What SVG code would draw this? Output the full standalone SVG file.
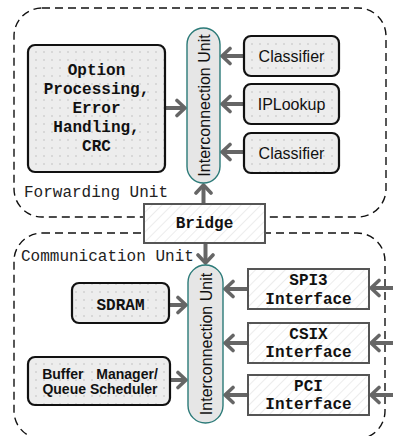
<svg xmlns="http://www.w3.org/2000/svg" width="393" height="436" viewBox="0 0 393 436">
  <style>
    .unit { fill: none; stroke: #111; stroke-width: 1.4; stroke-dasharray: 8 5; }
    .unit-label { font-family: "Liberation Mono", "Courier New", monospace; font-size: 16px; fill: #222; }
    .iu { fill: #e6e6e6; stroke: #2b7a78; stroke-width: 1.4; }
    .iu-text { font-family: "Liberation Sans", Arial, sans-serif; font-size: 16px; fill: #111; text-anchor: middle; }
    .soft { fill: url(#dots); stroke: #111; stroke-width: 2.2; }
    .hatch { fill: url(#hatch); stroke: #555; stroke-width: 2; }
    .mono { font-family: "Liberation Mono", "Courier New", monospace; font-size: 16px; font-weight: bold; fill: #111; text-anchor: middle; }
    .sans { font-family: "Liberation Sans", Arial, sans-serif; font-size: 16px; fill: #111; text-anchor: middle; }
    .sans-b { font-family: "Liberation Sans", Arial, sans-serif; font-size: 14px; font-weight: bold; fill: #111; text-anchor: middle; }
    .link { fill: none; stroke: #666; stroke-width: 4; marker-end: url(#arr); }
  </style>
  <defs>
    <pattern id="dots" width="8" height="8" patternUnits="userSpaceOnUse">
      <rect width="8" height="8" fill="#ededed"/>
      <circle cx="4" cy="4" r="0.8" fill="#bdbdbd"/>
    </pattern>
    <pattern id="hatch" width="7" height="7" patternUnits="userSpaceOnUse" patternTransform="rotate(45)">
      <rect width="7" height="7" fill="#ffffff"/>
      <line x1="0" y1="0" x2="0" y2="7" stroke="#e0e0e0" stroke-width="1.2"/>
    </pattern>
    <marker id="arr" viewBox="-11 -10 14 20" refX="0" refY="0" markerWidth="14" markerHeight="20" markerUnits="userSpaceOnUse" orient="auto">
      <path d="M-8,-7.5 L0,0 L-8,7.5" fill="none" stroke="#666" stroke-width="3.6" stroke-linecap="round" stroke-linejoin="round"/>
    </marker>
  </defs>

  <rect width="393" height="436" fill="#ffffff"/>

  <!-- unit boundaries -->
  <g id="forwarding-unit">
    <rect class="unit" x="14" y="8" width="372" height="209" rx="28"/>
    <text class="unit-label" x="24" y="197">Forwarding Unit</text>
  </g>
  <g id="communication-unit">
    <rect class="unit" x="14" y="233" width="371" height="206" rx="28"/>
    <text class="unit-label" x="21" y="261">Communication Unit</text>
  </g>

  <!-- connectors -->
  <g id="connectors">
    <path class="link" d="M165,108 H185"/>
    <path class="link" d="M244,56 H222"/>
    <path class="link" d="M244,104 H222"/>
    <path class="link" d="M244,152 H222"/>
    <path class="link" d="M203.5,204 V185"/>
    <path class="link" d="M205.5,243 V263"/>
    <path class="link" d="M169,305 H186"/>
    <path class="link" d="M170,380 H186"/>
    <path class="link" d="M248,289 H225"/>
    <path class="link" d="M248,343 H225"/>
    <path class="link" d="M248,395 H225"/>
    <path class="link" d="M393,288 H371"/>
    <path class="link" d="M393,343 H371"/>
    <path class="link" d="M393,395 H371"/>
  </g>

  <!-- forwarding unit nodes -->
  <g id="iu-forwarding">
    <rect class="iu" x="187" y="28" width="33" height="155" rx="16.5"/>
    <text class="iu-text" transform="translate(209.5,105.5) rotate(-90)">Interconnection Unit</text>
  </g>
  <g id="option-processing">
    <rect class="soft" x="28" y="45" width="137" height="127" rx="7"/>
    <text class="mono" x="96.5" y="75">Option</text>
    <text class="mono" x="96.5" y="94">Processing,</text>
    <text class="mono" x="96.5" y="113">Error</text>
    <text class="mono" x="96.5" y="132">Handling,</text>
    <text class="mono" x="96.5" y="151">CRC</text>
  </g>
  <g id="classifier-1">
    <rect class="soft" x="244" y="36" width="95" height="40" rx="7"/>
    <text class="sans" x="291.5" y="61.7">Classifier</text>
  </g>
  <g id="iplookup">
    <rect class="soft" x="244" y="84" width="95" height="40" rx="7"/>
    <text class="sans" x="291.5" y="109.7">IPLookup</text>
  </g>
  <g id="classifier-2">
    <rect class="soft" x="244" y="133" width="95" height="40" rx="7"/>
    <text class="sans" x="291.5" y="158.7">Classifier</text>
  </g>

  <!-- bridge between the two units -->
  <g id="bridge">
    <rect class="hatch" x="144" y="204" width="121" height="39"/>
    <text class="mono" x="204.5" y="228">Bridge</text>
  </g>

  <!-- communication unit nodes -->
  <g id="iu-communication">
    <rect class="iu" x="188" y="265" width="35" height="158" rx="17.5"/>
    <text class="iu-text" transform="translate(211.5,344) rotate(-90)">Interconnection Unit</text>
  </g>
  <g id="sdram">
    <rect class="soft" x="72" y="283" width="97" height="40" rx="7"/>
    <text class="mono" x="120.5" y="310">SDRAM</text>
  </g>
  <g id="buffer-manager">
    <rect class="soft" x="28" y="357" width="142" height="48" rx="7"/>
    <text class="sans-b" x="100" y="379" word-spacing="9">Buffer Manager/</text>
    <text class="sans-b" x="100" y="394">Queue Scheduler</text>
  </g>
  <g id="spi3-interface">
    <rect class="hatch" x="248" y="269" width="121" height="40"/>
    <text class="mono" x="308.5" y="285">SPI3</text>
    <text class="mono" x="308.5" y="304">Interface</text>
  </g>
  <g id="csix-interface">
    <rect class="hatch" x="248" y="323" width="121" height="40"/>
    <text class="mono" x="308.5" y="339">CSIX</text>
    <text class="mono" x="308.5" y="357">Interface</text>
  </g>
  <g id="pci-interface">
    <rect class="hatch" x="248" y="375" width="121" height="40"/>
    <text class="mono" x="308.5" y="391">PCI</text>
    <text class="mono" x="308.5" y="409">Interface</text>
  </g>
</svg>
